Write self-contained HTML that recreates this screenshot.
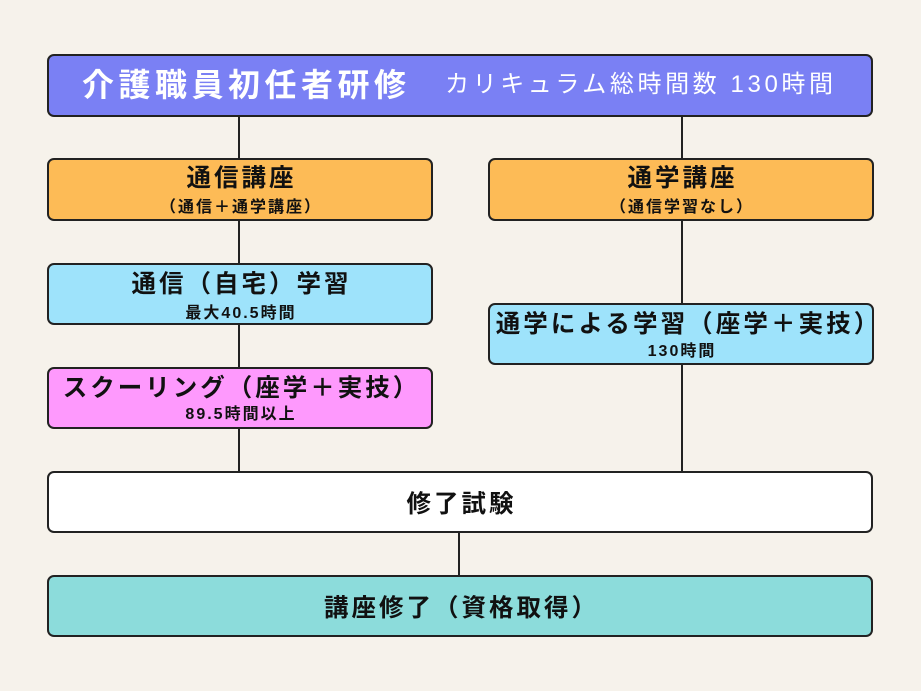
<!DOCTYPE html>
<html>
<head>
<meta charset="utf-8">
<style>
  html, body { margin:0; padding:0; }
  body { width:921px; height:691px; background:#f6f2eb; position:relative; overflow:hidden;
         font-family:"Liberation Sans","Noto Sans CJK JP",sans-serif; color:#111; }
  .box { position:absolute; box-sizing:border-box; border:2px solid #222; border-radius:7px; }
  .ln { position:absolute; background:#222; width:2px; }
  .t { position:absolute; text-align:center; white-space:nowrap; font-weight:bold; }
  .h1 { font-size:24.5px; letter-spacing:3px; line-height:30px; height:30px; padding-left:3px; box-sizing:border-box; }
  .h2 { font-size:16px; letter-spacing:2px; line-height:20px; height:20px; padding-left:2px; box-sizing:border-box; }
</style>
</head>
<body>
<!-- connectors -->
<div class="ln" style="left:238px; top:116px; height:44px;"></div>
<div class="ln" style="left:681px; top:116px; height:44px;"></div>
<div class="ln" style="left:238px; top:220px; height:45px;"></div>
<div class="ln" style="left:238px; top:324px; height:45px;"></div>
<div class="ln" style="left:238px; top:428px; height:45px;"></div>
<div class="ln" style="left:681px; top:220px; height:85px;"></div>
<div class="ln" style="left:681px; top:364px; height:109px;"></div>
<div class="ln" style="left:458px; top:532px; height:45px;"></div>

<!-- header -->
<div class="box" style="left:47px; top:54px; width:826px; height:63px; background:#7a80f4;"></div>
<div class="t" style="left:82px; top:65px; font-size:32px; letter-spacing:4.5px; line-height:40px; color:#fff;">介護職員初任者研修</div>
<div class="t" style="left:445px; top:70px; font-size:24px; letter-spacing:3.6px; line-height:30px; color:#fff; font-weight:normal;">カリキュラム総時間数 130時間</div>

<!-- left orange -->
<div class="box" style="left:47px; top:158px; width:386px; height:63px; background:#fdbb56;"></div>
<div class="t h1" style="left:47px; width:386px; top:164px;">通信講座</div>
<div class="t h2" style="left:47px; width:386px; top:198px;">（通信＋通学講座）</div>

<!-- right orange -->
<div class="box" style="left:488px; top:158px; width:386px; height:63px; background:#fdbb56;"></div>
<div class="t h1" style="left:488px; width:386px; top:164px;">通学講座</div>
<div class="t h2" style="left:488px; width:386px; top:198px;">（通信学習なし）</div>

<!-- left blue -->
<div class="box" style="left:47px; top:263px; width:386px; height:62px; background:#9ee3fb;"></div>
<div class="t h1" style="left:47px; width:386px; top:270px;">通信（自宅）学習</div>
<div class="t h2" style="left:47px; width:386px; top:304px;">最大40.5時間</div>

<!-- pink -->
<div class="box" style="left:47px; top:367px; width:386px; height:62px; background:#fe99fd;"></div>
<div class="t h1" style="left:47px; width:386px; top:374px;">スクーリング（座学＋実技）</div>
<div class="t h2" style="left:47px; width:386px; top:405px;">89.5時間以上</div>

<!-- right blue -->
<div class="box" style="left:488px; top:303px; width:386px; height:62px; background:#9ee3fb;"></div>
<div class="t h1" style="left:485px; width:404px; top:310px; letter-spacing:3.1px; padding-left:3.1px;">通学による学習（座学＋実技）</div>
<div class="t h2" style="left:488px; width:386px; top:342px;">130時間</div>

<!-- exam -->
<div class="box" style="left:47px; top:471px; width:826px; height:62px; background:#ffffff;"></div>
<div class="t h1" style="left:47px; width:826px; top:490px;">修了試験</div>

<!-- final -->
<div class="box" style="left:47px; top:575px; width:826px; height:62px; background:#8cdcdb;"></div>
<div class="t h1" style="left:47px; width:826px; top:594px;">講座修了（資格取得）</div>
</body>
</html>
